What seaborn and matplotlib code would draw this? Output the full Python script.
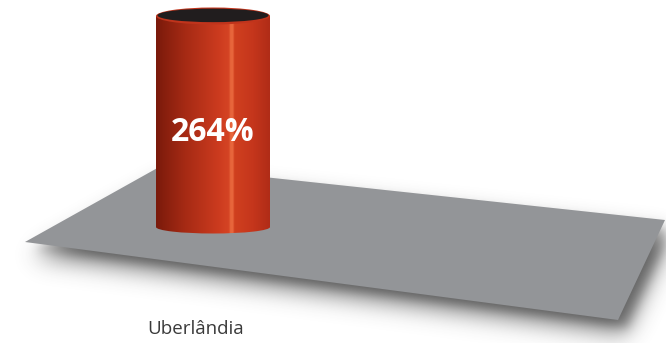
import numpy as np
import pandas as pd
import matplotlib
matplotlib.use("Agg")
import matplotlib.pyplot as plt
from matplotlib.patches import Polygon, Ellipse
from matplotlib.path import Path
from matplotlib.colors import LinearSegmentedColormap
import seaborn as sns

# ---- data ----
categories = ["Uberlândia"]
values = [264]
value_labels = ["264%"]

W, H = 666, 343
sns.set_style("white")
plt.rcParams["font.family"] = ["Open Sans", "DejaVu Sans"]

fig = plt.figure(figsize=(W / 100, H / 100), dpi=100)

# background axes in pixel coordinates (plane + shadow)
ax_bg = fig.add_axes([0, 0, 1, 1], zorder=0)
ax_bg.set_xlim(0, W)
ax_bg.set_ylim(H, 0)
ax_bg.axis("off")

plane = np.array([[25, 242], [161, 166], [665, 220], [618, 320]], float)

# soft shadow under the plane
yy, xx = np.mgrid[0:H, 0:W]
pts = np.column_stack([xx.ravel() + 0.5, yy.ravel() + 0.5])
def blur(a, s):
    r = int(3 * s)
    k = np.exp(-0.5 * (np.arange(-r, r + 1) / s) ** 2)
    k /= k.sum()
    a = np.apply_along_axis(lambda m: np.convolve(m, k, mode="same"), 0, a)
    a = np.apply_along_axis(lambda m: np.convolve(m, k, mode="same"), 1, a)
    return a
m1 = Path(plane + np.array([7, 15])).contains_points(pts).reshape(H, W).astype(float)
m2 = Path(plane + np.array([9, 8])).contains_points(pts).reshape(H, W).astype(float)
mask = 0.6 * blur(m1, 11) + 0.25 * blur(m2, 5)
rgba = np.zeros((H, W, 4))
rgba[..., :3] = 0.25
rgba[..., 3] = np.clip(mask, 0, 1)
ax_bg.imshow(rgba, extent=(0, W, H, 0), zorder=1, interpolation="bilinear")
ax_bg.add_patch(Polygon(plane, closed=True, facecolor="#939598", edgecolor="none", zorder=2))
ax_bg.set_xlim(0, W)
ax_bg.set_ylim(H, 0)

# bar axes
x_left, x_right = 156, 270
y_base, y_top = 227, 16
ax = fig.add_axes([x_left / W, (H - y_base) / H, (x_right - x_left) / W, (y_base - y_top) / H], zorder=2)
ax.patch.set_alpha(0)
df = pd.DataFrame({"cat": categories, "val": values})
sns.barplot(data=df, x="cat", y="val", ax=ax, width=1.0, color="#c7381f", saturation=1)
ax.set_xlim(-0.5, 0.5)
ax.set_ylim(0, max(values))
ax.axis("off")

cyl_cmap = LinearSegmentedColormap.from_list(
    "cyl",
    [(0.0, "#7a1a0b"), (0.25, "#a52a14"), (0.55, "#cc3b1f"), (0.64, "#d54424"),
     (0.655, "#e8663c"), (0.675, "#e8663c"), (0.69, "#d0401f"), (0.85, "#c5361c"), (1.0, "#b02c17")])
grad = np.linspace(0, 1, 256)[None, :].repeat(4, axis=0)

for bar in ax.patches:
    x0, y0, w, h = bar.get_x(), bar.get_y(), bar.get_width(), bar.get_height()
    im = ax.imshow(grad, extent=(x0, x0 + w, y0, y0 + h), aspect="auto", cmap=cyl_cmap,
                   origin="lower", zorder=3)
    im.set_clip_path(bar)
    inv = ax_bg.transData.inverted()
    (px0, py_bot), (px1, py_top) = inv.transform(ax.transData.transform([(x0, y0), (x0 + w, y0 + h)]))
    cx = (px0 + px1) / 2
    ew = px1 - px0
    # bottom cap
    eh_b = 13
    bot = Ellipse((cx, py_bot), ew, eh_b, facecolor="none", edgecolor="none",
                  transform=ax_bg.transData)
    ax_bg.add_patch(bot)
    im2 = ax_bg.imshow(grad, extent=(px0, px1, py_bot + eh_b, py_bot - eh_b), aspect="auto",
                       cmap=cyl_cmap, zorder=3)
    im2.set_clip_path(bot)
    ax_bg.set_xlim(0, W)
    ax_bg.set_ylim(H, 0)
    # top opening
    eh_t = 17
    ax.add_patch(Ellipse((cx, py_top), ew, eh_t, facecolor="#c0341c", edgecolor="none",
                         transform=ax_bg.transData, clip_on=False, zorder=5))
    ax.add_patch(Ellipse((cx, py_top - 0.6), ew - 3, eh_t - 3.5, facecolor="#211d1e", edgecolor="none",
                         transform=ax_bg.transData, clip_on=False, zorder=6))

for i, (v, lab) in enumerate(zip(values, value_labels)):
    ax.text(i, v * 0.45, lab, ha="center", va="center", color="white",
            fontsize=23, fontweight="bold", zorder=7)

ax.set_xlim(-0.5, 0.5)
ax.set_ylim(0, max(values))

# category label
for i, c in enumerate(categories):
    ax_bg.text(196, 329, c, ha="center", va="center", fontsize=13.5, color="#3a3a3a", zorder=5)

fig.savefig("out.png", dpi=100)
